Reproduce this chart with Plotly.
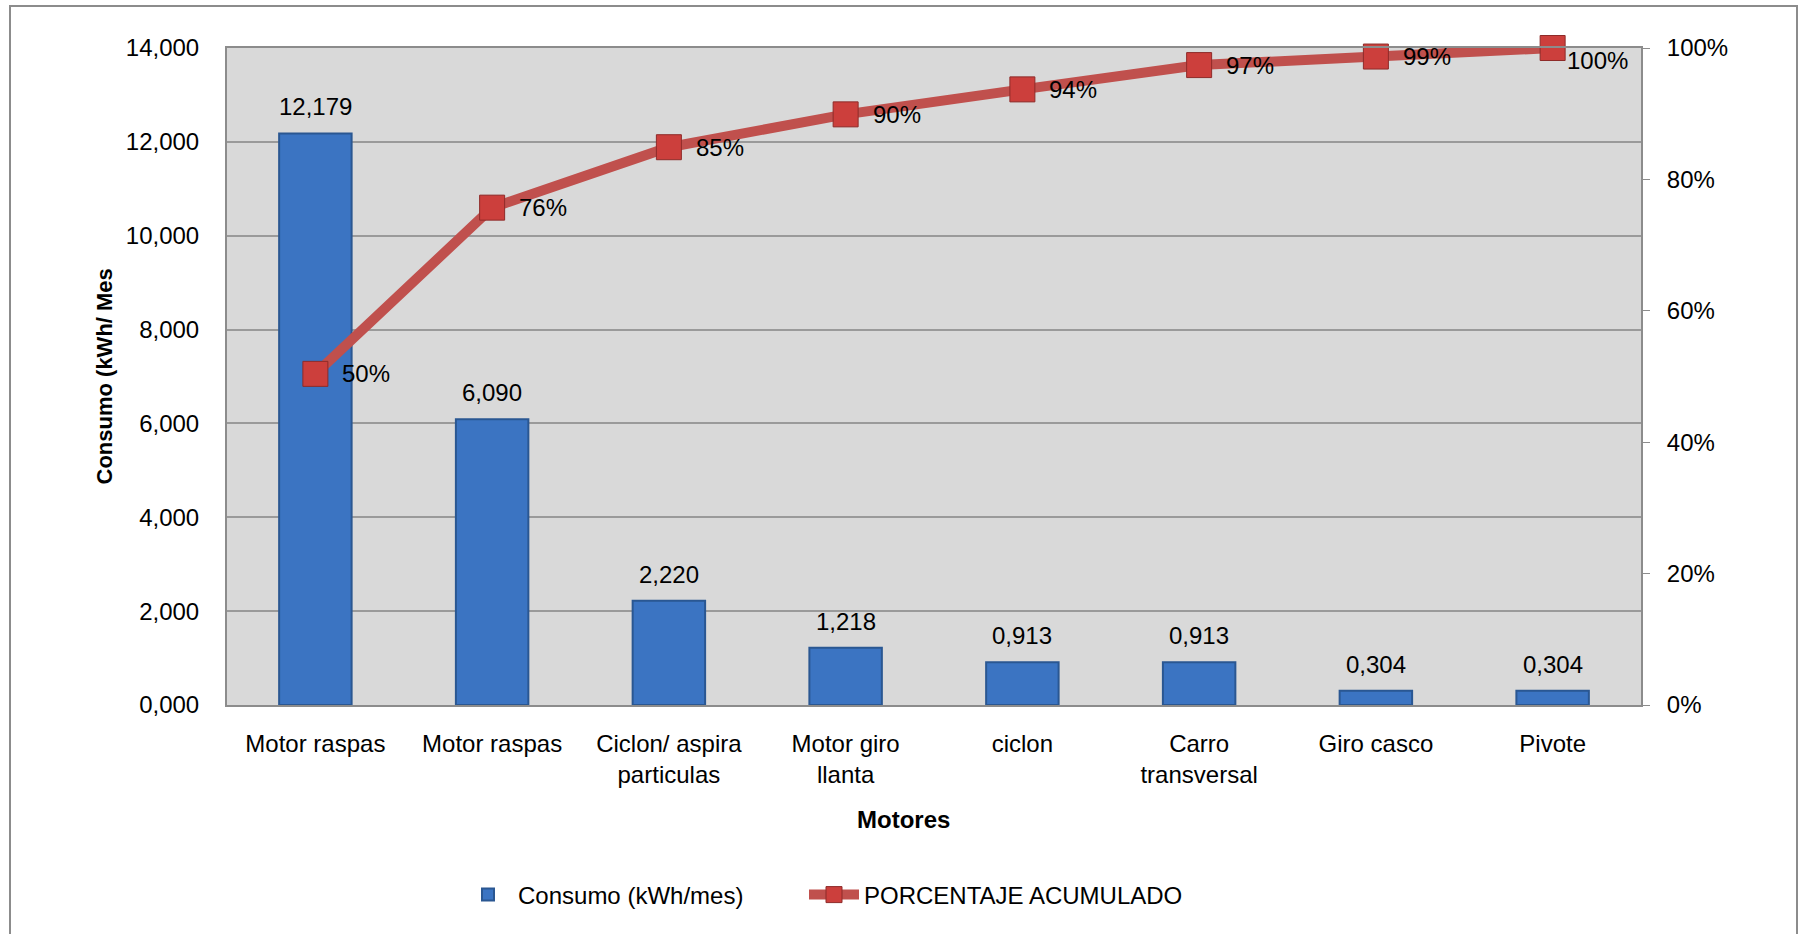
import plotly.graph_objects as go

categories = ["Motor raspas", "Motor raspas", "Ciclon/ aspira<br>particulas", "Motor giro<br>llanta",
              "ciclon", "Carro<br>transversal", "Giro casco", "Pivote"]
consumo = [12.179, 6.090, 2.220, 1.218, 0.913, 0.913, 0.304, 0.304]
acumulado = [0.504, 0.757, 0.849, 0.899, 0.937, 0.974, 0.987, 1.000]
left_ticks = [0, 2, 4, 6, 8, 10, 12, 14]
right_ticks = [0, 0.2, 0.4, 0.6, 0.8, 1.0]

W, H = 1804, 934
L, R, T, B = 227, 163, 48, 229
PW, PH = W - L - R, H - T - B

def px_x(x):
    return (x - L) / PW

def px_y(y):
    return (H - B - y) / PH

FONT = "Liberation Sans, Arial, sans-serif"
FS = 24
xs = list(range(len(categories)))

fig = go.Figure()
fig.add_trace(go.Bar(
    x=xs, y=consumo, name="Consumo (kWh/mes)", width=0.41,
    marker=dict(color="#3B74C2", line=dict(color="#2A5792", width=2)),
    legendwidth=281, hoverinfo="y",
))
fig.add_trace(go.Scatter(
    x=xs, y=acumulado, name="PORCENTAJE ACUMULADO", yaxis="y2",
    mode="lines+markers",
    line=dict(color="#C0504D", width=10),
    marker=dict(symbol="square", size=25, color="#CC3F3C", line=dict(color="#8E2B29", width=1)),
    legendwidth=420, cliponaxis=False,
))

annotations = []
for x, v in zip(xs, consumo):
    annotations.append(dict(x=x, y=v, xref="x", yref="y", text=f"{v:.3f}".replace(".", ","),
                            showarrow=False, yanchor="bottom", yshift=11,
                            font=dict(size=FS, color="black", family=FONT)))
for i, (x, v) in enumerate(zip(xs, acumulado)):
    last = i == len(xs) - 1
    annotations.append(dict(x=x, y=v, xref="x", yref="y2", text=f"{round(v*100)}%",
                            showarrow=False, xanchor="left", yanchor="middle",
                            xshift=12 if last else 25, yshift=-12 if last else 0,
                            font=dict(size=FS, color="black", family=FONT)))
annotations.append(dict(x=px_x(104), y=0.5, xref="paper", yref="paper", text="<b>Consumo (kWh/ Mes</b>",
                        textangle=-90, showarrow=False, xanchor="center", yanchor="middle",
                        font=dict(size=22, color="black", family=FONT)))
annotations.append(dict(x=px_x(903), y=px_y(819), xref="paper", yref="paper", text="<b>Motores</b>",
                        showarrow=False, xanchor="center", yanchor="middle",
                        font=dict(size=FS, color="black", family=FONT)))

fig.update_layout(
    width=W, height=H,
    margin=dict(l=L, r=R, t=T, b=B),
    paper_bgcolor="white", plot_bgcolor="#D9D9D9",
    separators=",.",
    font=dict(family=FONT, size=FS, color="black"),
    showlegend=True,
    legend=dict(orientation="h", x=px_x(458), y=px_y(895), xanchor="left", yanchor="middle",
                itemwidth=50, font=dict(size=FS, family=FONT, color="black"),
                bgcolor="rgba(0,0,0,0)"),
    xaxis=dict(range=[-0.5, len(categories) - 0.5], tickvals=xs, ticktext=categories,
               showgrid=False, showline=True, mirror=True, linecolor="#8C8C8C", linewidth=2,
               ticks="", ticklabelstandoff=16, tickfont=dict(size=FS), zeroline=False),
    yaxis=dict(range=[0, 14], tickvals=left_ticks, tickformat=".3f",
               showgrid=True, gridcolor="#9A9A9A", gridwidth=1.5,
               showline=True, mirror=True, linecolor="#8C8C8C", linewidth=2,
               ticks="", ticklabelstandoff=21,
               tickfont=dict(size=FS), zeroline=False),
    yaxis2=dict(range=[0, 1], tickvals=right_ticks, tickformat=".0%", overlaying="y", side="right",
                showgrid=False, showline=False, ticks="outside", ticklen=8, tickcolor="#8C8C8C",
                ticklabelstandoff=12, tickfont=dict(size=FS), zeroline=False),
    annotations=annotations,
    shapes=[dict(type="rect", xref="paper", yref="paper", x0=px_x(10), x1=px_x(1797),
                 y0=px_y(960), y1=px_y(6), line=dict(color="#8C8C8C", width=2), layer="below")],
)

fig.write_html("out.html", config={"displayModeBar": False},
               post_script="document.body.style.margin='0px';document.body.style.overflow='hidden';")
